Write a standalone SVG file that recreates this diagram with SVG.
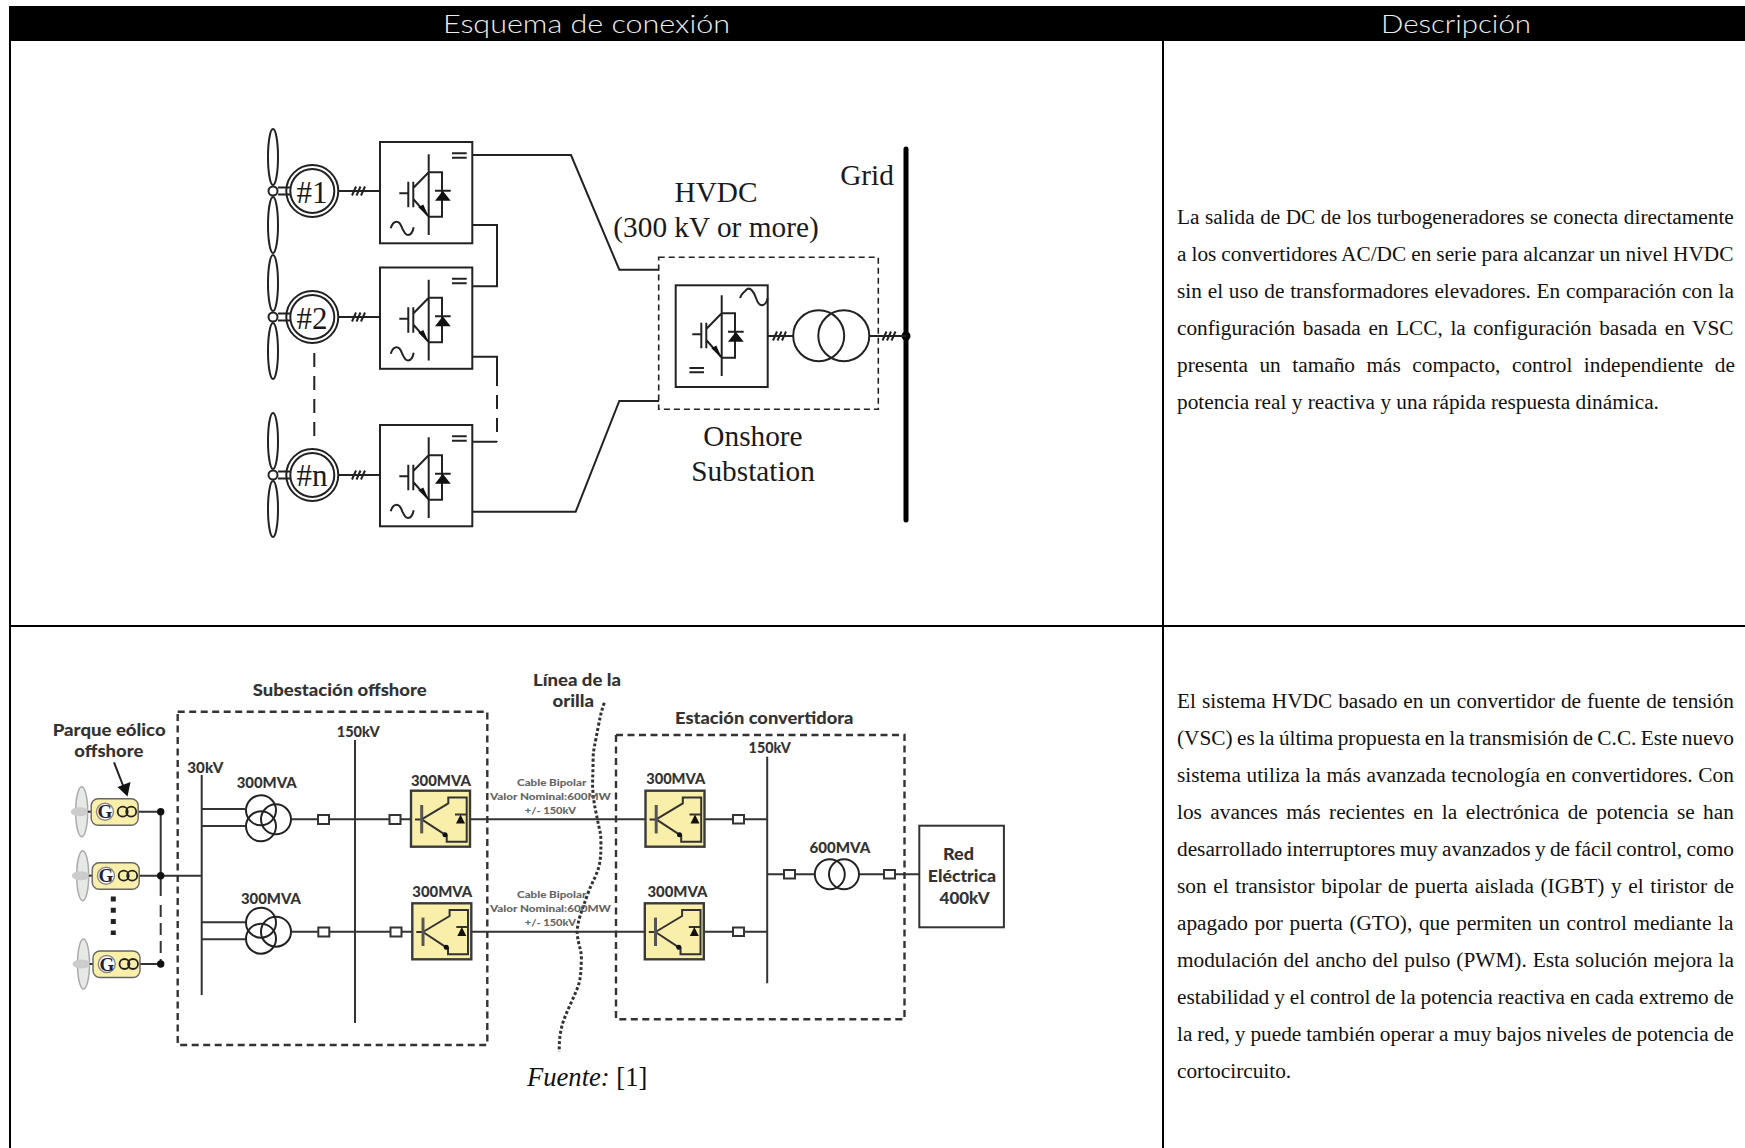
<svg xmlns="http://www.w3.org/2000/svg" width="1745" height="1148" viewBox="0 0 1745 1148">
<style>
.hd{font-family:"Lato","DejaVu Sans",sans-serif;font-weight:300;font-size:25px;fill:#eee}
.body{font-family:"Liberation Serif",serif;font-size:21.3px;fill:#111}
.t1{font-family:"Liberation Serif",serif;font-size:29.3px;fill:#1a1a1a;text-anchor:middle}
.t2{font-family:"Lato","Open Sans",sans-serif;font-weight:900;fill:#333}
.big{font-size:17px}.mid{font-size:15px}.sm{font-size:9.5px;fill:#666}
.l{fill:none;stroke:#222;stroke-width:2}
.l2{fill:none;stroke:#333;stroke-width:2}
.y{fill:#f9efaa;stroke:#3a3a3a;stroke-width:2.4}
.dash{fill:none;stroke:#333;stroke-width:2.4;stroke-dasharray:7 4.500}
.sq{fill:#fff;stroke:#333;stroke-width:2}
.k{fill:#111}
</style>
<defs>
<g id="core">
<path class="l" d="M48.700 12.300V93M48.700 30.300H62V74.700H48.700M33.300 46L48.700 30.300M33.300 57L48.700 74.700M28.300 39.700V65.300M33.300 39.700V65.300M19.300 51.300H28.300M55 48.700H70.700"/>
<path class="k" d="M48.700 74.700L38.300 65.300L43.300 62.500Z"/>
<path class="k" d="M55 58.700H70.700L62.800 48.700Z"/>
</g>
<g id="conv">
<rect class="l" width="92.300" height="101.300"/>
<use href="#core"/>
<path class="l" d="M72 11.300H86.700M72 15.700H86.700"/>
<path class="l" d="M10.700 86.300C12 82 14 79.700 16.700 79.700C20 79.700 21 83 22.300 86.300C24 90 25 93 28 93C31.500 93 33 89 33.700 85.300"/>
</g>
<g id="turbine">
<ellipse class="l" cx="0" cy="-34" rx="5" ry="28"/>
<ellipse class="l" cx="0" cy="34" rx="5" ry="28"/>
<path class="l" d="M5-3.500H18M5 3.500H18"/>
<circle cx="0" cy="0" r="4.500" fill="#fff" stroke="#222" stroke-width="2"/>
<circle class="l" cx="39.300" cy="0" r="26"/>
<circle class="l" cx="39.300" cy="0" r="22"/>
<path class="l" d="M65.300 0H107M79 4.500L83-4.500M83.500 4.500L87.500-4.500M88 4.500L92-4.500"/>
</g>
<g id="yconv">
<rect class="y" width="59" height="56"/>
<path class="l2" d="M4 28.700H10.700M10.700 28.700L37.300 12.700V6.700H55.700V51H35.700V44M10.700 28.700L34 44M44 23.700H56.300"/>
<path d="M10.700 14.300V42.700" fill="none" stroke="#555" stroke-width="3"/>
<path class="k" d="M45 32.700H54L49.500 23.700Z"/>
<circle class="k" cx="34" cy="44" r="2.500"/>
</g>
<g id="gen">
<ellipse cx="0" cy="0" rx="6" ry="25" fill="#e6eae6" stroke="#aaa" stroke-width="1.500"/>
<ellipse cx="-2" cy="0" rx="9" ry="4.500" fill="#ccc"/>
<path class="l2" d="M6 0H10"/>
<rect x="9.500" y="-13" width="47" height="26.500" rx="7" fill="#f9efaa" stroke="#666" stroke-width="1.400"/>
<circle cx="23.300" cy="0" r="8.500" fill="#fff" stroke="#888" stroke-width="1.400"/>
<text x="23.300" y="6.500" text-anchor="middle" font-family="Liberation Serif,serif" font-weight="700" font-size="19" fill="#223">G</text>
<circle cx="41" cy="0" r="5" fill="none" stroke="#222" stroke-width="1.800"/>
<circle cx="49.500" cy="0" r="5" fill="none" stroke="#222" stroke-width="1.800"/>
</g>
<g id="tx3">
<circle class="l" cx="0" cy="-9" r="15"/>
<circle class="l" cx="0" cy="7" r="15"/>
<circle class="l" cx="15" cy="0" r="15"/>
</g>
</defs>
<rect width="1745" height="1148" fill="#fff"/>
<g id="table">
<rect x="9" y="6" width="1736" height="35" fill="#000"/>
<rect x="9" y="41" width="2" height="1107" fill="#000"/>
<rect x="1162" y="41" width="2" height="1107" fill="#000"/>
<rect x="9" y="625" width="1736" height="2" fill="#000"/>
<text id="head-1" class="hd" x="443" y="33" textLength="287" lengthAdjust="spacingAndGlyphs">Esquema de conexión</text>
<text id="head-2" class="hd" x="1381" y="33" textLength="150" lengthAdjust="spacingAndGlyphs">Descripción</text>
</g>
<g id="desc-1">
<text class="body" x="1177" y="224" word-spacing="0.170">La salida de DC de los turbogeneradores se conecta directamente</text>
<text class="body" x="1177" y="261" word-spacing="-0.300">a los convertidores AC/DC en serie para alcanzar un nivel HVDC</text>
<text class="body" x="1177" y="298" word-spacing="0.500">sin el uso de transformadores elevadores. En comparación con la</text>
<text class="body" x="1177" y="335" word-spacing="2.260">configuración basada en LCC, la configuración basada en VSC</text>
<text class="body" x="1177" y="372" word-spacing="6.200">presenta un tamaño más compacto, control independiente de</text>
<text class="body" x="1177" y="409">potencia real y reactiva y una rápida respuesta dinámica.</text>
</g>
<g id="desc-2">
<text class="body" x="1177" y="708" word-spacing="0.680">El sistema HVDC basado en un convertidor de fuente de tensión</text>
<text class="body" x="1177" y="745" word-spacing="-0.940">(VSC) es la última propuesta en la transmisión de C.C. Este nuevo</text>
<text class="body" x="1177" y="782" word-spacing="0.340">sistema utiliza la más avanzada tecnología en convertidores. Con</text>
<text class="body" x="1177" y="819" word-spacing="3.180">los avances más recientes en la electrónica de potencia se han</text>
<text class="body" x="1177" y="856" word-spacing="-0.990">desarrollado interruptores muy avanzados y de fácil control, como</text>
<text class="body" x="1177" y="893" word-spacing="1.320">son el transistor bipolar de puerta aislada (IGBT) y el tiristor de</text>
<text class="body" x="1177" y="930" word-spacing="1.290">apagado por puerta (GTO), que permiten un control mediante la</text>
<text class="body" x="1177" y="967" word-spacing="0.630">modulación del ancho del pulso (PWM). Esta solución mejora la</text>
<text class="body" x="1177" y="1004" word-spacing="-0.400">estabilidad y el control de la potencia reactiva en cada extremo de</text>
<text class="body" x="1177" y="1041" word-spacing="-0.370">la red, y puede también operar a muy bajos niveles de potencia de</text>
<text class="body" x="1177" y="1078">cortocircuito.</text>
</g>
<g id="connectors-1">
<path class="l" d="M472 155H571L619.300 269.700H659M472 225H497V286.300H472M473 356.700H497V372M497 441.700H472M472 511.700H575.700L619.300 401H659"/>
<path class="l" stroke-dasharray="14 9" d="M497 372V441.700"/>
<path class="l" stroke-dasharray="14 9" d="M314.300 353V437"/>
<path d="M906 149V520" fill="none" stroke="#000" stroke-width="5" stroke-linecap="round"/>
<circle cx="906" cy="336" r="4.500" fill="#000"/>
<path class="l" d="M768 336H793M870 336H906M773 340.500L777 331.500M777.500 340.500L781.500 331.500M782 340.500L786 331.500M882.500 340.500L886.500 331.500M887 340.500L891 331.500M891.500 340.500L895.500 331.500"/>
</g>
<g id="turbine-1"><use href="#turbine" x="273" y="191"/></g>
<g id="turbine-2"><use href="#turbine" x="273" y="317"/></g>
<g id="turbine-n"><use href="#turbine" x="273" y="475"/></g>
<g id="conv-1"><use href="#conv" x="380" y="142"/></g>
<g id="conv-2"><use href="#conv" x="380" y="267.500"/></g>
<g id="conv-n"><use href="#conv" x="380" y="425"/></g>
<g id="onshore">
<rect x="658.700" y="257.300" width="219.600" height="152" fill="none" stroke="#222" stroke-width="1.600" stroke-dasharray="6 4"/>
<rect class="l" x="675.700" y="285.300" width="92" height="101.700"/>
<use href="#core" x="673" y="283"/>
<path class="l" d="M740 298C742 292 744 293 746 290C750 286 754 292 756 298C758 304 760 306 763 305C766 304 767 302 767.500 298"/>
<path class="l" d="M689.400 368H704M689.400 372.300H704"/>
<circle class="l" cx="818.700" cy="335.700" r="25.500"/>
<circle class="l" cx="843.800" cy="335.700" r="25.500"/>
</g>
<g id="labels-1">
<text class="t1" x="716" y="202">HVDC</text>
<text class="t1" x="716" y="237">(300 kV or more)</text>
<text class="t1" x="867" y="185">Grid</text>
<text class="t1" x="753" y="446">Onshore</text>
<text class="t1" x="753" y="481">Substation</text>
<text class="t1" x="312" y="203" style="font-size:31px">#1</text>
<text class="t1" x="312" y="329" style="font-size:31px">#2</text>
<text class="t1" x="312" y="486" style="font-size:31px">#n</text>
</g>
<g id="connectors-2">
<path class="l2" d="M138 811.700H160.700M139 875.700H201.700M140 964H160.700M160.700 811.700V896M201.700 775V995M201.700 809H245M201.700 826H245M201.700 922.300H245M201.700 939.300H245M291 819.300H411M291.500 931.700H412M355 740V1023M470 819.300H646M471 931.700H645M705 819.300H767.200M704 931.700H767.200M767.200 756.700V983.300M767.200 874.300H815M859 874.300H919"/>
<path d="M160.700 905V964" fill="none" stroke="#333" stroke-width="2" stroke-dasharray="12 6"/>
<circle class="k" cx="160.700" cy="811.700" r="3.700"/><circle class="k" cx="160.700" cy="875.700" r="3.700"/><circle class="k" cx="160.700" cy="964" r="3.700"/>
<path d="M114 762.300L124 788" fill="none" stroke="#222" stroke-width="2"/>
<path class="k" d="M117.500 787L130.500 782L127.500 796.500Z"/>
<path d="M604.300 702.700C601 712 600 718 598.200 726.700C595 745 593 750 593.100 760C593 775 592 785 593.100 793.300C594 805 596 812 597.500 820C599 828 601 833 600.900 840C601 850 601 858 598.900 866.700C596 877 592 882 588 893.300C582 910 577 922 577.200 933.300C578 945 582 950 581.300 960C581 970 581 978 577.900 986.700C573 1000 567 1010 562.700 1023.300C560 1032 559 1042 559.300 1051.700" fill="none" stroke="#333" stroke-width="3" stroke-dasharray="3 2.200"/>
</g>
<g id="offshore-box"><rect x="177.700" y="711.700" width="309.600" height="333.300" class="dash"/></g>
<g id="converter-box"><rect x="616" y="735" width="288.500" height="284.300" class="dash"/></g>
<g id="gens">
<use href="#gen" x="81.700" y="811.700"/><use href="#gen" x="82.700" y="875.700"/><use href="#gen" x="83.500" y="964"/>
<path d="M113.300 896.500V935" fill="none" stroke="#222" stroke-width="5" stroke-dasharray="5 6.300"/>
</g>
<g id="tx-1"><use href="#tx3" x="261" y="819.300"/></g>
<g id="tx-2"><use href="#tx3" x="261" y="931.700"/></g>
<g id="tx-3"><circle class="l" cx="829.800" cy="874.300" r="15"/><circle class="l" cx="844" cy="874.300" r="15"/></g>
<g id="breakers">
<rect class="sq" x="318" y="815" width="11" height="9"/><rect class="sq" x="389.500" y="815" width="11" height="9"/>
<rect class="sq" x="318.300" y="927.500" width="11" height="9"/><rect class="sq" x="390.500" y="927.500" width="11" height="9"/>
<rect class="sq" x="733" y="815" width="11" height="8.500"/><rect class="sq" x="733" y="927.500" width="11" height="8.500"/>
<rect class="sq" x="784" y="870" width="11" height="8.500"/><rect class="sq" x="884" y="870" width="11" height="8.500"/>
</g>
<g id="vsc-1"><use href="#yconv" x="411" y="790.700"/></g>
<g id="vsc-2"><use href="#yconv" x="412.300" y="903.300"/></g>
<g id="vsc-3"><use href="#yconv" x="645.500" y="790.700"/></g>
<g id="vsc-4"><use href="#yconv" x="644.800" y="903.300"/></g>
<g id="grid-box"><rect x="919.300" y="825.700" width="84.600" height="101.600" fill="#fff" stroke="#333" stroke-width="2"/></g>
<g id="labels-2">
<text class="t2 big" x="252.700" y="695.700" textLength="174" lengthAdjust="spacingAndGlyphs">Subestación offshore</text>
<text class="t2 big" x="52.700" y="736" textLength="113" lengthAdjust="spacingAndGlyphs">Parque eólico</text>
<text class="t2 big" x="74.300" y="757.300" textLength="69" lengthAdjust="spacingAndGlyphs">offshore</text>
<text class="t2 mid" x="336.700" y="736.700" textLength="43" lengthAdjust="spacingAndGlyphs">150kV</text>
<text class="t2 mid" x="187.300" y="773" textLength="36" lengthAdjust="spacingAndGlyphs">30kV</text>
<text class="t2 mid" x="236.700" y="788.300" textLength="60" lengthAdjust="spacingAndGlyphs">300MVA</text>
<text class="t2 mid" x="411" y="786" textLength="60" lengthAdjust="spacingAndGlyphs">300MVA</text>
<text class="t2 mid" x="241" y="904" textLength="60" lengthAdjust="spacingAndGlyphs">300MVA</text>
<text class="t2 mid" x="412.300" y="897.300" textLength="60" lengthAdjust="spacingAndGlyphs">300MVA</text>
<text class="t2 big" x="533" y="685.700" textLength="88" lengthAdjust="spacingAndGlyphs">Línea de la</text>
<text class="t2 big" x="552.500" y="706.700" textLength="41.500" lengthAdjust="spacingAndGlyphs">orilla</text>
<text class="t2 big" x="675" y="724.300" textLength="178.400" lengthAdjust="spacingAndGlyphs">Estación convertidora</text>
<text class="t2 mid" x="748.600" y="753.300" textLength="42.300" lengthAdjust="spacingAndGlyphs">150kV</text>
<text class="t2 mid" x="646.200" y="784" textLength="59" lengthAdjust="spacingAndGlyphs">300MVA</text>
<text class="t2 mid" x="647.500" y="897.300" textLength="60" lengthAdjust="spacingAndGlyphs">300MVA</text>
<text class="t2 mid" x="809.500" y="853.300" textLength="60.800" lengthAdjust="spacingAndGlyphs">600MVA</text>
<text class="t2 sm" x="517" y="786" textLength="69.300" lengthAdjust="spacingAndGlyphs">Cable Bipolar</text>
<text class="t2 sm" x="490" y="800" textLength="121" lengthAdjust="spacingAndGlyphs">Valor Nominal:600MW</text>
<text class="t2 sm" x="524.800" y="813.700" textLength="51.200" lengthAdjust="spacingAndGlyphs">+/- 150kV</text>
<text class="t2 sm" x="517" y="898.300" textLength="69.300" lengthAdjust="spacingAndGlyphs">Cable Bipolar</text>
<text class="t2 sm" x="490" y="912.300" textLength="121" lengthAdjust="spacingAndGlyphs">Valor Nominal:600MW</text>
<text class="t2 sm" x="524.800" y="926" textLength="51.200" lengthAdjust="spacingAndGlyphs">+/- 150kV</text>
<text class="t2 big" x="943" y="860" textLength="31" lengthAdjust="spacingAndGlyphs">Red</text>
<text class="t2 big" x="927.800" y="881.700" textLength="68.200" lengthAdjust="spacingAndGlyphs">Eléctrica</text>
<text class="t2 big" x="939.600" y="904.300" textLength="50.100" lengthAdjust="spacingAndGlyphs">400kV</text>
<text x="527" y="1086" font-family="Liberation Serif,serif" font-size="26.600" fill="#111"><tspan font-style="italic">Fuente:</tspan> [1]</text>
</g>
</svg>
